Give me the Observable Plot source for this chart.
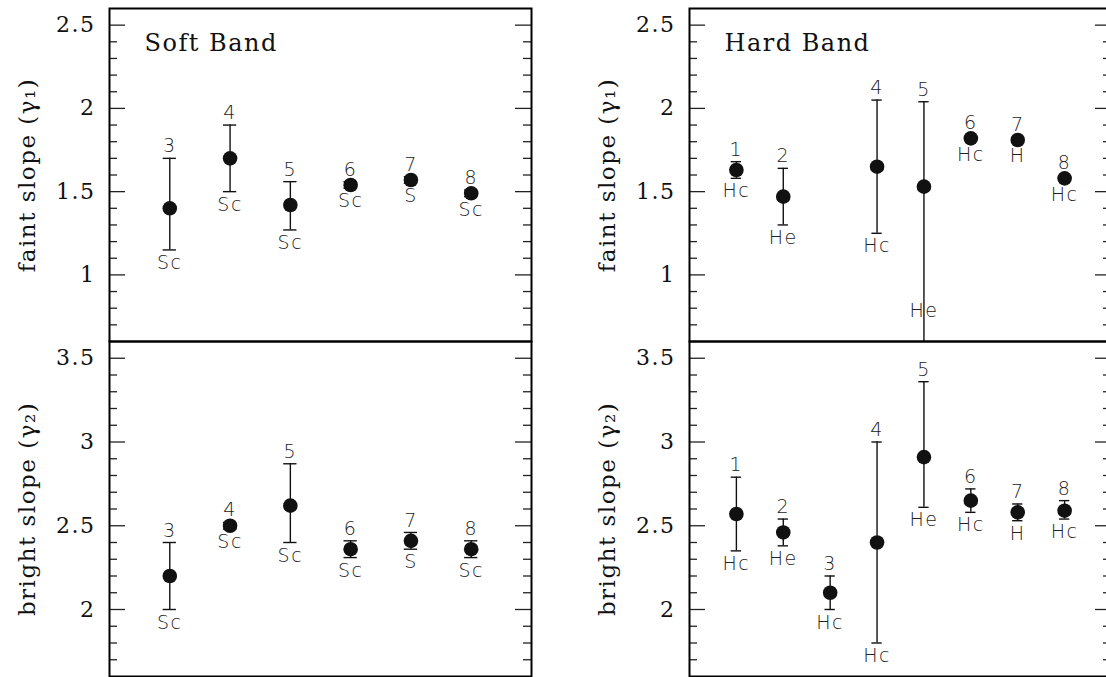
<!DOCTYPE html>
<html>
<head>
<meta charset="utf-8">
<script src="https://cdn.jsdelivr.net/npm/d3@7"></script>
<script src="https://cdn.jsdelivr.net/npm/@observablehq/plot@0.6"></script>
<style>
  body { margin: 0; background: #fff; }
  #chart { position: relative; width: 1106px; height: 677px; overflow: hidden; background: #fff; }
  #chart > svg { position: absolute; }
  #chart svg text { letter-spacing: 1.5px; }
</style>
</head>
<body>
<div id="chart"></div>
<script>
// ---- data ----
const softIds   = [3, 4, 5, 6, 7, 8];
const softTypes = ["Sc", "Sc", "Sc", "Sc", "S", "Sc"];
const softFaint   = [1.40, 1.70, 1.42, 1.54, 1.57, 1.49];
const softFaintLo = [1.15, 1.50, 1.27, 1.52, 1.55, 1.47];
const softFaintHi = [1.70, 1.90, 1.56, 1.56, 1.59, 1.51];
const softBright   = [2.20, 2.50, 2.62, 2.36, 2.41, 2.36];
const softBrightLo = [2.00, 2.48, 2.40, 2.31, 2.36, 2.31];
const softBrightHi = [2.40, 2.52, 2.87, 2.41, 2.46, 2.41];

const hardFaintIds   = [1, 2, 4, 5, 6, 7, 8];
const hardFaintTypes = ["Hc", "He", "Hc", "He", "Hc", "H", "Hc"];
const hardFaint   = [1.63, 1.47, 1.65, 1.53, 1.82, 1.81, 1.58];
const hardFaintLo = [1.58, 1.30, 1.25, 0.50, 1.80, 1.79, 1.56];
const hardFaintHi = [1.68, 1.64, 2.05, 2.04, 1.84, 1.83, 1.60];

const hardBrightIds   = [1, 2, 3, 4, 5, 6, 7, 8];
const hardBrightTypes = ["Hc", "He", "Hc", "Hc", "He", "Hc", "H", "Hc"];
const hardBright   = [2.57, 2.46, 2.10, 2.40, 2.91, 2.65, 2.58, 2.59];
const hardBrightLo = [2.35, 2.38, 2.00, 1.80, 2.61, 2.58, 2.53, 2.54];
const hardBrightHi = [2.79, 2.54, 2.20, 3.00, 3.36, 2.72, 2.63, 2.65];

const faintTicks  = [1, 1.5, 2, 2.5];
const brightTicks = [2, 2.5, 3, 3.5];
const faintDomain  = [0.6, 2.6];
const brightDomain = [1.6, 3.6];
const softXDomain = [2, 9];
const hardXDomain = [0, 9];

const faintLabel  = "faint slope (γ₁)";
const brightLabel = "bright slope (γ₂)";
const softTitle = "Soft Band";
const hardTitle = "Hard Band";

// ---- drawing ----
const chart = document.getElementById("chart");
const SERIF = "'DejaVu Serif', serif";
const SANS = "'DejaVu Sans', sans-serif";

function panel(o) {
  const W = 422, ml = 109, mr = 10;
  const rows = o.ids.map((id, i) => ({x: id, y: o.val[i], lo: o.lo[i], hi: o.hi[i], id: String(id), type: o.types[i]}));
  const lo10 = Math.round(o.yDomain[0] * 10), hi10 = Math.round(o.yDomain[1] * 10);
  const minors = d3.range(lo10 + 1, hi10).map(i => i / 10).filter(v => !o.majors.some(m => Math.abs(m - v) < 1e-6));
  const tickStyle = {stroke: "#222", strokeWidth: 1.3};
  // lower label anchor: the lower bar end, or (if that end is off the panel) a spot inside the panel
  const lowAnchor = d => (d.lo < o.yDomain[0] ? o.yDomain[0] + 0.26 : d.lo);
  const marks = [
    Plot.tickY(minors, {...tickStyle, insetRight: W - 8}),
    Plot.tickY(minors, {...tickStyle, insetLeft: W - 8}),
    Plot.tickY(o.majors, {...tickStyle, insetRight: W - 16}),
    Plot.tickY(o.majors, {...tickStyle, insetLeft: W - 16}),
    Plot.ruleX(rows, {x: "x", y1: "lo", y2: "hi", stroke: "#111", strokeWidth: 1.4, clip: true}),
    Plot.ruleY(rows, {y: "hi", x1: d => d.x - 0.11, x2: d => d.x + 0.11, stroke: "#111", strokeWidth: 1.4, clip: true}),
    Plot.ruleY(rows, {y: "lo", x1: d => d.x - 0.11, x2: d => d.x + 0.11, stroke: "#111", strokeWidth: 1.4, clip: true}),
    Plot.dot(rows, {x: "x", y: "y", r: 7.3, fill: "#111", stroke: "none"}),
    Plot.text(rows, {x: "x", y: "hi", text: "id", dy: -12, lineAnchor: "middle", fontFamily: SANS, fontSize: 19, fontWeight: 300, fill: "#222"}),
    Plot.text(rows, {x: "x", y: lowAnchor, text: "type", dy: 13, lineAnchor: "middle", fontFamily: SANS, fontSize: 19, fontWeight: 300, fill: "#222"}),
    Plot.text([o.ylabel], {frameAnchor: "left", rotate: -90, dx: -82, textAnchor: "middle", lineAnchor: "middle", fontFamily: SERIF, fontSize: 23, fill: "#111"}),
    Plot.frame({stroke: "#000", strokeWidth: 2})
  ];
  if (o.title) marks.push(Plot.text([o.title], {frameAnchor: "top-left", dx: 35, dy: 25, textAnchor: "start", lineAnchor: "top", fontFamily: SERIF, fontSize: 24, fill: "#111"}));
  const svg = Plot.plot({
    width: ml + W + mr,
    height: o.mt + o.ph + o.mb,
    marginLeft: ml, marginRight: mr, marginTop: o.mt, marginBottom: o.mb,
    x: {domain: o.xDomain, axis: null},
    y: {domain: o.yDomain, ticks: o.majors, tickSize: 0, tickPadding: 14, tickFormat: d => String(d), label: null},
    style: {fontFamily: SERIF, fontSize: "22px", color: "#111", background: "transparent", overflow: "visible"},
    marks
  });
  svg.style.left = o.left + "px";
  svg.style.top = o.top + "px";
  chart.appendChild(svg);
}

panel({ids: softIds, types: softTypes, val: softFaint, lo: softFaintLo, hi: softFaintHi,
  xDomain: softXDomain, yDomain: faintDomain, majors: faintTicks, ylabel: faintLabel, title: softTitle,
  left: 0, top: 0, mt: 8, ph: 333, mb: 3});
panel({ids: softIds, types: softTypes, val: softBright, lo: softBrightLo, hi: softBrightHi,
  xDomain: softXDomain, yDomain: brightDomain, majors: brightTicks, ylabel: brightLabel, title: null,
  left: 0, top: 338, mt: 3, ph: 335, mb: 1});
panel({ids: hardFaintIds, types: hardFaintTypes, val: hardFaint, lo: hardFaintLo, hi: hardFaintHi,
  xDomain: hardXDomain, yDomain: faintDomain, majors: faintTicks, ylabel: faintLabel, title: hardTitle,
  left: 580, top: 0, mt: 8, ph: 333, mb: 3});
panel({ids: hardBrightIds, types: hardBrightTypes, val: hardBright, lo: hardBrightLo, hi: hardBrightHi,
  xDomain: hardXDomain, yDomain: brightDomain, majors: brightTicks, ylabel: brightLabel, title: null,
  left: 580, top: 338, mt: 3, ph: 335, mb: 1});
</script>
</body>
</html>
